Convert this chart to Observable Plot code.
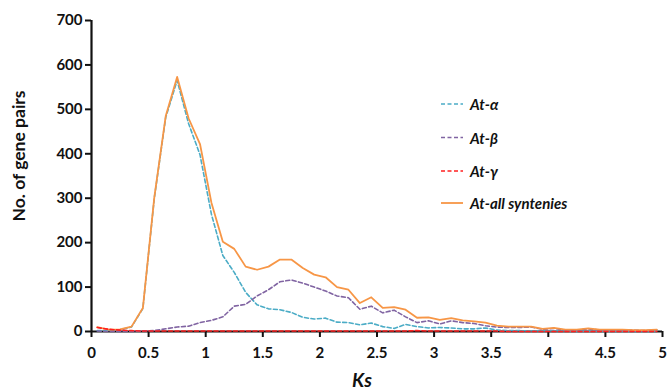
<!DOCTYPE html>
<html>
<head>
<meta charset="utf-8">
<script src="https://cdn.jsdelivr.net/npm/d3@7"></script>
<script src="https://cdn.jsdelivr.net/npm/@observablehq/plot@0.6"></script>
<style>
  body { margin: 0; background: #fff; }
  svg { display: block; }
</style>
</head>
<body>
<div id="chart"></div>
<script>
// Ks bin centres (0.1-wide bins)
const ks = [0.05, 0.15, 0.25, 0.35, 0.45, 0.55, 0.65, 0.75, 0.85, 0.95,
            1.05, 1.15, 1.25, 1.35, 1.45, 1.55, 1.65, 1.75, 1.85, 1.95,
            2.05, 2.15, 2.25, 2.35, 2.45, 2.55, 2.65, 2.75, 2.85, 2.95,
            3.05, 3.15, 3.25, 3.35, 3.45, 3.55, 3.65, 3.75, 3.85, 3.95,
            4.05, 4.15, 4.25, 4.35, 4.45, 4.55, 4.65, 4.75, 4.85, 4.95];

// Number of gene pairs per bin
const atAlpha = [2, 2, 4, 10, 52, 300, 482, 565, 468, 398,
                 264, 171, 133, 88, 60, 51, 49, 43, 32, 28,
                 30, 21, 20, 15, 19, 11, 7, 16, 11, 8,
                 9, 8, 6, 6, 8, 3, 2, 2, 1, 1,
                 1, 1, 0, 1, 0, 0, 0, 0, 0, 0];
const atBeta = [1, 0, 0, 0, 1, 2, 6, 10, 12, 20,
                25, 33, 57, 61, 80, 94, 112, 116, 109, 100,
                91, 80, 76, 50, 57, 42, 48, 33, 20, 24,
                17, 24, 20, 18, 13, 10, 9, 9, 10, 5,
                7, 3, 3, 6, 3, 4, 3, 3, 2, 4];
const atGamma = [9, 5, 3, 2, 1, 1, 1, 1, 1, 1,
                 1, 1, 1, 1, 1, 1, 1, 1, 1, 1,
                 1, 1, 1, 1, 1, 1, 1, 1, 2, 1,
                 1, 1, 1, 1, 1, 1, 0, 0, 0, 0,
                 0, 0, 0, 0, 0, 0, 0, 0, 0, 0];
const atAll = [10, 4, 5, 11, 53, 302, 485, 573, 480, 422,
               290, 202, 186, 146, 139, 146, 162, 162, 143, 128,
               122, 100, 94, 64, 77, 53, 55, 49, 31, 32,
               26, 30, 25, 23, 20, 13, 11, 11, 11, 6,
               8, 4, 4, 7, 4, 4, 4, 3, 3, 4];

const xTicks = [0, 0.5, 1, 1.5, 2, 2.5, 3, 3.5, 4, 4.5, 5];
const yTicks = [0, 100, 200, 300, 400, 500, 600, 700];

const seriesNames = ["At-α", "At-β", "At-γ", "At-all syntenies"];
const seriesValues = [atAlpha, atBeta, atGamma, atAll];
const seriesColors = ["#4bacc6", "#8064a2", "#ff1f1f", "#f79646"];
const seriesDash = ["4,2.5", "4,2.5", "4,2.5", null];

const series = seriesNames.map((name, j) => ({
  name,
  color: seriesColors[j],
  dash: seriesDash[j],
  rows: ks.map((k, i) => ({ks: k, n: seriesValues[j][i]}))
}));

// cyan, purple, orange underneath; red drawn last so it sits on the baseline
const drawOrder = [0, 1, 3, 2];

const font = "Lato, 'Open Sans', sans-serif";

const plot = Plot.plot({
  width: 667,
  height: 389,
  marginLeft: 91,
  marginRight: 5,
  marginTop: 20,
  marginBottom: 58,
  style: {fontFamily: font, background: "#fff", color: "#111"},
  x: {domain: [0, 5]},
  y: {domain: [0, 700]},
  marks: [
    Plot.axisX({ticks: xTicks, tickSize: 6, tickPadding: 10, fontSize: 15, fontWeight: 700,
                strokeWidth: 2, stroke: "#111", fill: "#111", label: null, tickFormat: d => String(d)}),
    Plot.axisY({ticks: yTicks, tickSize: 6, tickPadding: 3, fontSize: 15, fontWeight: 700,
                strokeWidth: 2, stroke: "#111", fill: "#111", label: null}),
    Plot.ruleX([0], {stroke: "#111", strokeWidth: 2.2}),
    Plot.ruleY([0], {stroke: "#111", strokeWidth: 2.2}),
    ...drawOrder.map(j => {
      const s = series[j];
      return Plot.line(s.rows, {x: "ks", y: "n", stroke: s.color, strokeWidth: s.dash ? 1.6 : 1.8,
                                strokeDasharray: s.dash ?? undefined, strokeLinejoin: "round"});
    })
  ]
});

const svg = d3.select(plot);

// axis titles
svg.append("text")
  .attr("transform", "translate(18.5,156) rotate(-90)")
  .attr("text-anchor", "middle").attr("dominant-baseline", "central")
  .attr("font-family", font).attr("font-size", 17.5).attr("font-weight", 700).attr("fill", "#111")
  .text("No. of gene pairs");

svg.append("text")
  .attr("x", 362).attr("y", 379)
  .attr("text-anchor", "middle").attr("dominant-baseline", "central")
  .attr("font-family", font).attr("font-size", 19).attr("font-weight", 700)
  .attr("font-style", "italic").attr("fill", "#111")
  .text("Ks");

// legend
const legendY = [104, 137.5, 171, 203];
const legend = svg.append("g").attr("text-anchor", "start");
series.forEach((s, j) => {
  const g = legend.append("g").attr("transform", `translate(441,${legendY[j]})`);
  g.append("line").attr("x1", 0).attr("x2", 22).attr("y1", 0).attr("y2", 0)
    .attr("stroke", s.color).attr("stroke-width", s.dash ? 1.5 : 1.8)
    .attr("stroke-dasharray", s.dash);
  g.append("text").attr("x", 29).attr("y", 0).attr("dominant-baseline", "central")
    .attr("text-anchor", "start")
    .attr("font-family", font).attr("font-size", 15).attr("font-weight", 700)
    .attr("font-style", "italic").attr("fill", "#111")
    .text(s.name);
});

document.getElementById("chart").appendChild(plot);
</script>
</body>
</html>
